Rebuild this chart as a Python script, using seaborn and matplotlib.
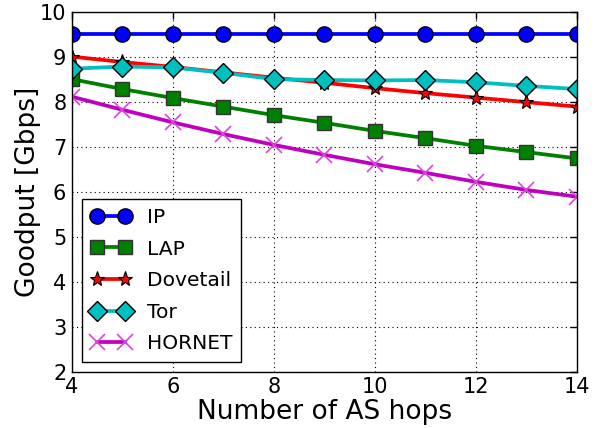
import matplotlib
matplotlib.use("Agg")
import matplotlib.pyplot as plt
import seaborn as sns
import pandas as pd

hops = [4, 5, 6, 7, 8, 9, 10, 11, 12, 13, 14]
ip = [9.5, 9.5, 9.5, 9.5, 9.5, 9.5, 9.5, 9.5, 9.5, 9.5, 9.5]
lap = [8.50, 8.28, 8.08, 7.89, 7.70, 7.53, 7.35, 7.19, 7.02, 6.88, 6.74]
dovetail = [9.00, 8.88, 8.77, 8.65, 8.53, 8.42, 8.30, 8.19, 8.09, 7.99, 7.89]
tor = [8.73, 8.78, 8.76, 8.64, 8.50, 8.48, 8.47, 8.48, 8.43, 8.35, 8.28]
hornet = [8.11, 7.82, 7.54, 7.28, 7.04, 6.82, 6.61, 6.42, 6.22, 6.04, 5.89]

series_names = ["IP", "LAP", "Dovetail", "Tor", "HORNET"]
series_vals = [ip, lap, dovetail, tor, hornet]

sns.set_style("white")
plt.rcParams['font.family'] = ['DejaVu Sans']
plt.rcParams['text.color'] = 'black'
plt.rcParams['axes.labelcolor'] = 'black'
plt.rcParams['xtick.color'] = 'black'
plt.rcParams['ytick.color'] = 'black'

styles = {
    "IP": dict(color="#0000FF", marker="o", markersize=11, mec="black", mew=1.0),
    "LAP": dict(color="#008000", marker="s", markersize=10, mec="#333333", mew=1.0),
    "Dovetail": dict(color="#FF0000", marker="*", markersize=11, mec="black", mew=0.8),
    "Tor": dict(color="#00BFBF", marker="D", markersize=10, mec="black", mew=1.0),
    "HORNET": dict(color="#BF00BF", marker="x", markersize=11, mec="#DD44DD", mew=1.2),
}

fig, ax = plt.subplots(figsize=(5.99, 4.28), dpi=100)
fig.subplots_adjust(left=0.120, right=0.963, bottom=0.131, top=0.973)

for name, vals in zip(series_names, series_vals):
    df = pd.DataFrame({"x": hops, "y": vals})
    st = styles[name]
    sns.lineplot(data=df, x="x", y="y", ax=ax, label=name, color=st["color"],
                 marker=st["marker"], markersize=st["markersize"],
                 markeredgecolor=st["mec"], markeredgewidth=st["mew"],
                 linewidth=2.7)

ax.set_xlim(4, 14)
ax.set_ylim(2, 10)
ax.set_xticks([4, 6, 8, 10, 12, 14])
ax.set_yticks([2, 3, 4, 5, 6, 7, 8, 9, 10])
ax.grid(True, linestyle=(0, (1, 3)), color="black", linewidth=0.8)
ax.tick_params(direction="in", top=True, right=True, length=5, width=1,
               labelsize=15, pad=4, colors="black")
for sp in ax.spines.values():
    sp.set_color("black")
    sp.set_linewidth(1)
ax.set_xlabel("Number of AS hops", fontsize=19, labelpad=1, color="black")
ax.set_ylabel("Goodput [Gbps]", fontsize=19, labelpad=-1, color="black")

leg = ax.legend(loc="lower left", fontsize=14.6, numpoints=2, fancybox=False,
                framealpha=1, edgecolor="black", borderaxespad=0.5,
                handlelength=2.0, labelspacing=0.62, borderpad=0.42)
leg.get_frame().set_linewidth(1)
for t in leg.get_texts():
    t.set_color("black")

fig.savefig("out.png", dpi=100)
